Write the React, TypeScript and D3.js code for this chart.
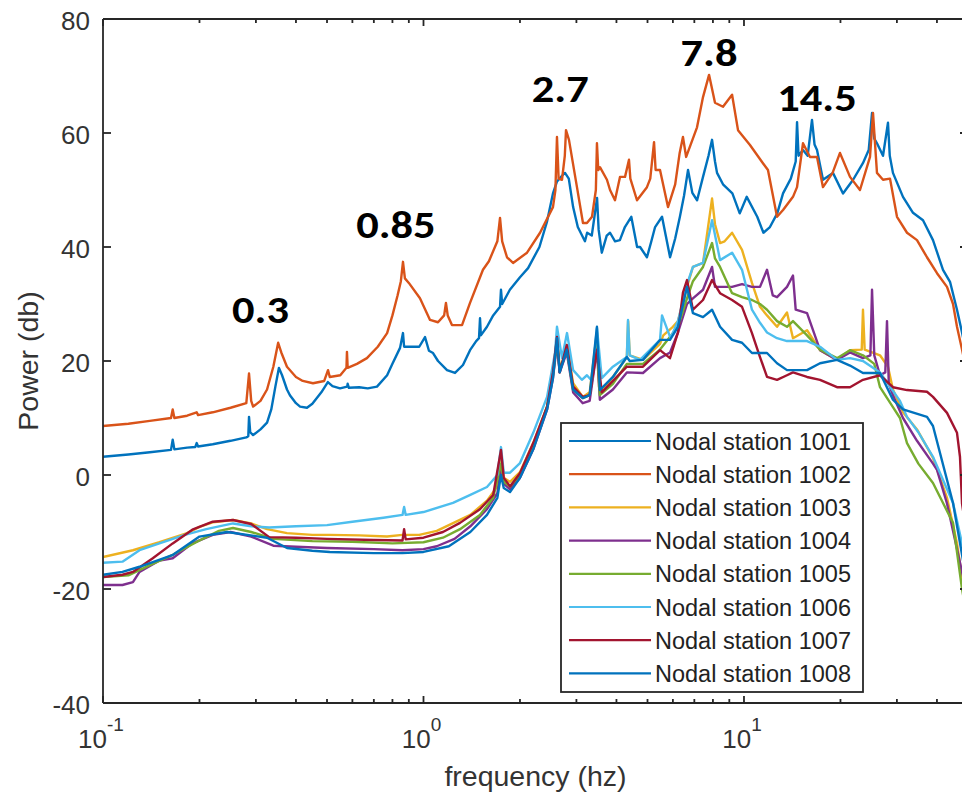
import React from "react";
import * as d3 from "d3";

type Pt = [number, number];

const stationNames = [
  "Nodal station 1001",
  "Nodal station 1002",
  "Nodal station 1003",
  "Nodal station 1004",
  "Nodal station 1005",
  "Nodal station 1006",
  "Nodal station 1007",
  "Nodal station 1008",
];
const stationColors = ["#0072BD", "#D95319", "#EDB120", "#7E2F8E", "#77AC30", "#4DBEEE", "#A2142F", "#0072BD"];

const station1001: Pt[] = [
  [0.1, 3.2], [0.12, 3.6], [0.14, 4.0], [0.163, 4.4], [0.165, 6.2], [0.167, 4.5], [0.183, 4.8], [0.194, 4.9], [0.196, 5.6], [0.198, 5.0],
  [0.22, 5.4], [0.25, 6.0], [0.28, 6.6], [0.284, 6.8], [0.2855, 10.2], [0.288, 7.5], [0.294, 7.0], [0.31, 8.0], [0.325, 9.2], [0.335, 11.5],
  [0.345, 15.5], [0.354, 18.8], [0.362, 17.5], [0.375, 15.0], [0.383, 14.0], [0.4, 12.6], [0.412, 12.0], [0.433, 11.8], [0.45, 12.5], [0.48, 14.5],
  [0.503, 16.3], [0.52, 15.6], [0.549, 15.2], [0.578, 15.5], [0.58, 16.0], [0.585, 15.3], [0.63, 15.4], [0.67, 15.2], [0.716, 15.5], [0.77, 17.5],
  [0.8, 19.5], [0.845, 22.3], [0.863, 24.9], [0.87, 22.5], [0.927, 22.5], [0.97, 22.5], [1.011, 24.2], [1.04, 21.8], [1.071, 21.4], [1.11, 20.0],
  [1.184, 18.4], [1.254, 17.9], [1.328, 19.3], [1.397, 21.9], [1.46, 23.5], [1.49, 24.0], [1.501, 27.5], [1.51, 24.5], [1.578, 26.0], [1.65, 28.0],
  [1.733, 29.5], [1.745, 32.5], [1.76, 30.0], [1.86, 32.5], [2.0, 34.7], [2.12, 36.3], [2.3, 40], [2.43, 44.5], [2.535, 49.4], [2.61, 51.5],
  [2.705, 52.5], [2.764, 53], [2.84, 52.0], [2.93, 47], [3.03, 43.5], [3.19, 41], [3.24, 42.5], [3.35, 42.0], [3.48, 48.6], [3.52, 43.0],
  [3.6, 39.0], [3.73, 42.0], [3.82, 42.5], [3.96, 41.0], [4.1, 41.2], [4.25, 43.5], [4.45, 45.3], [4.64, 40.0], [4.74, 40.0], [4.98, 38.2],
  [5.14, 41.0], [5.28, 43.5], [5.55, 45.3], [5.7, 42], [5.88, 38.2], [6.1, 41.5], [6.31, 45.3], [6.5, 49], [6.69, 53.5], [6.9, 49.5],
  [7.14, 48.2], [7.45, 52.3], [7.75, 56], [7.95, 58.8], [8.12, 55], [8.24, 53], [8.6, 51], [9.2, 49.4], [9.7, 45.9], [10.2, 48.8],
  [11.0, 45.3], [11.5, 42.5], [12.05, 43.5], [12.7, 45.9], [13.24, 49.4], [14.0, 52], [14.5, 55], [14.64, 61.9], [14.8, 56], [15.28, 57],
  [15.8, 56], [16.3, 62.3], [16.6, 58], [16.9, 57], [17.64, 51.8], [18.95, 53], [20.37, 49.4], [21.9, 51.8], [23.5, 54.7], [24.5, 57],
  [25.09, 63.5], [25.5, 59], [26.0, 58.2], [27.15, 56], [28.14, 61.8], [28.5, 56], [29.16, 53], [31.34, 48.8], [33.68, 46], [36.19, 44.7],
  [38.88, 41.2], [41.78, 36], [43.94, 33.9], [46.2, 29], [47.9, 25], [50, 20],
];

const station1002: Pt[] = [
  [0.1, 8.6], [0.12, 9.0], [0.14, 9.5], [0.163, 10.0], [0.165, 11.5], [0.167, 10.0], [0.183, 10.4], [0.196, 11.0], [0.198, 10.5], [0.22, 11.0],
  [0.25, 11.8], [0.28, 12.6], [0.2855, 17.8], [0.29, 13], [0.294, 12.0], [0.31, 13.0], [0.325, 15], [0.34, 19], [0.352, 23.2], [0.36, 21.5],
  [0.375, 19.0], [0.4, 17.2], [0.42, 16.5], [0.452, 16.1], [0.49, 16.5], [0.5036, 18.4], [0.51, 17.2], [0.55, 17.5], [0.575, 18.8], [0.577, 21.6],
  [0.58, 18.8], [0.62, 19.5], [0.666, 20.5], [0.72, 22.5], [0.77, 24.9], [0.8, 28], [0.83, 31.5], [0.85, 34], [0.863, 37.4], [0.875, 34.5],
  [0.9, 33.7], [0.975, 31], [1.048, 27.2], [1.11, 26.8], [1.16, 28], [1.175, 30.2], [1.19, 28], [1.227, 26.3], [1.319, 26.3], [1.397, 30.2],
  [1.533, 36], [1.6, 37.5], [1.7, 41], [1.733, 45.1], [1.76, 41], [1.822, 38.2], [1.903, 37.2], [2.104, 39], [2.31, 42.5], [2.535, 47],
  [2.58, 50], [2.609, 59.3], [2.64, 52], [2.705, 51.8], [2.76, 56], [2.784, 60.5], [2.844, 58.8], [3.012, 50.5], [3.145, 44.2], [3.236, 44.2],
  [3.356, 45.3], [3.45, 50], [3.477, 58.2], [3.51, 53.5], [3.553, 54], [3.736, 51.8], [3.82, 50], [3.958, 48.2], [4.103, 52.3], [4.254, 52.3],
  [4.377, 55.3], [4.42, 52], [4.636, 48.2], [4.98, 50.5], [5.1, 52], [5.24, 58.4], [5.3, 53.5], [5.47, 53.5], [5.793, 47], [6.1, 51],
  [6.3, 56.5], [6.45, 59.3], [6.6, 55.8], [7.136, 61], [7.45, 66.3], [7.78, 70.2], [8.12, 65.3], [8.6, 64.6], [9.18, 66.7], [9.58, 60.5],
  [10.44, 57.9], [11.46, 54.7], [11.88, 53.5], [12.68, 45.3], [13.24, 46.5], [14.22, 48.8], [14.64, 50.5], [15.28, 58.2], [16.07, 55.8], [16.9, 55.8],
  [17.64, 50.5], [18.9, 53], [19.93, 56.5], [21.42, 52.3], [23.01, 50], [24.73, 55.8], [25.27, 63.5], [26.0, 53], [27.15, 51.8], [28.55, 52],
  [30.02, 45.3], [32.26, 42.5], [34.66, 41.2], [37.24, 38.2], [40.02, 35.4], [43.0, 33], [44.9, 30], [46.2, 26], [47.9, 22], [50, 17],
];

const station1003: Pt[] = [
  [0.1, -14.4], [0.124, -13.2], [0.15, -11.8], [0.183, -10.2], [0.2, -9.1], [0.22, -8.3], [0.2545, -7.9], [0.29, -8.5], [0.325, -9.5], [0.375, -10.2],
  [0.45, -10.5], [0.51, -10.5], [0.63, -10.6], [0.77, -10.8], [0.86, -10.5], [0.97, -10.5], [1.1, -9.8], [1.2, -8.8], [1.4, -7], [1.578, -4.5],
  [1.7, -2.0], [1.745, 3.5], [1.78, -0.5], [1.862, -1.2], [2.0, 0.5], [2.2, 5.6], [2.43, 12], [2.535, 18], [2.609, 24.2], [2.66, 19],
  [2.73, 20], [2.8, 22.8], [2.93, 16.1], [3.14, 13.7], [3.3, 14.5], [3.477, 25], [3.53, 15.5], [3.63, 14.9], [3.9, 17.2], [4.31, 20.7],
  [4.35, 27], [4.4, 21], [4.84, 20.2], [5.47, 23], [5.6, 24.5], [6.0, 26], [6.224, 27], [6.64, 33], [6.93, 36.5], [7.45, 37.2],
  [7.95, 48.5], [8.12, 44], [8.42, 40.7], [8.7, 41], [9.18, 42.5], [9.86, 39.5], [10.59, 33.7], [11.22, 29.5], [11.8, 28], [12.68, 26],
  [13.62, 28.5], [14.22, 24], [15.73, 25.4], [17.27, 21.9], [19.51, 20.2], [21.42, 21.9], [23.3, 22], [23.51, 29], [23.8, 22], [26.57, 21],
  [28.14, 19], [29.16, 15], [31.34, 11], [34.66, 8], [38.88, 3], [43.0, -4], [46.2, -12], [47.9, -18], [50, -24],
];

const station1004: Pt[] = [
  [0.1, -19.3], [0.115, -19.3], [0.124, -18.8], [0.13, -17.0], [0.15, -15], [0.165, -14.6], [0.19, -12], [0.22, -10.5], [0.25, -10], [0.29, -10.8],
  [0.34, -12.4], [0.4, -12.6], [0.5, -12.8], [0.7, -13], [0.86, -13.2], [1.0, -13], [1.1, -12.5], [1.25, -11.2], [1.4, -9], [1.578, -6],
  [1.7, -3.2], [1.745, 1], [1.78, -1.5], [1.862, -2.5], [2.0, -0.5], [2.2, 4.5], [2.43, 11.5], [2.535, 17], [2.609, 23], [2.66, 18],
  [2.8, 21.5], [2.93, 14.5], [3.14, 12.6], [3.3, 13], [3.477, 22], [3.55, 13.2], [3.9, 15], [4.31, 18], [4.84, 17.9], [5.47, 20.5],
  [5.88, 21.5], [6.224, 25], [6.64, 30], [6.93, 31], [7.45, 32.5], [7.95, 36.5], [8.12, 33], [8.42, 33], [9.18, 33], [9.86, 33.5],
  [10.59, 33], [11.22, 33], [11.8, 36], [12.3, 31.5], [12.68, 31.2], [13.62, 33], [14.22, 35], [14.5, 29], [15.73, 28.4], [17.27, 21.9],
  [19.51, 20.2], [21.42, 21.5], [23.51, 20.5], [24.8, 21], [25.09, 32.5], [25.5, 21], [26.57, 17.5], [27.6, 18], [27.94, 27], [28.3, 16],
  [29.16, 14], [31.34, 10], [34.66, 6], [38.88, 2], [40.02, 0.9], [43.0, -5], [46.2, -13], [47.9, -17], [50, -22],
];

const station1005: Pt[] = [
  [0.1, -17.9], [0.12, -17.6], [0.14, -15.8], [0.165, -14], [0.2, -11.5], [0.23, -9.8], [0.2545, -9.3], [0.29, -10], [0.34, -11.2], [0.45, -11.6],
  [0.6, -11.7], [0.8, -12], [1.0, -11.8], [1.15, -11], [1.3, -9.5], [1.5, -7], [1.65, -4], [1.745, 2], [1.78, -1.2], [1.862, -2],
  [2.0, 0], [2.2, 5], [2.43, 12], [2.535, 17.5], [2.609, 23.5], [2.66, 18.5], [2.8, 22], [2.93, 15], [3.14, 13.5], [3.3, 14],
  [3.477, 23], [3.55, 14], [3.9, 16], [4.31, 19.5], [4.84, 19.5], [5.47, 22], [6.224, 26], [6.64, 31], [6.93, 34], [7.45, 36.5],
  [7.95, 40.7], [8.12, 38], [8.42, 36.5], [9.18, 31.9], [9.86, 31.2], [10.59, 30.7], [11.22, 30], [11.8, 29], [12.68, 27], [13.62, 26],
  [14.22, 27], [15.73, 24.5], [17.27, 22], [19.51, 20.5], [21.42, 21.9], [23.51, 21], [25.5, 19.5], [26.57, 15.4], [29.16, 11.9], [30.67, 10],
  [32.26, 5.6], [35, 2], [38.88, -1.4], [44.9, -8.4], [47.9, -20], [50, -26],
];

const station1006: Pt[] = [
  [0.1, -15.4], [0.115, -15.2], [0.13, -13.2], [0.15, -12], [0.18, -10.5], [0.21, -9.5], [0.2545, -8.5], [0.29, -9.0], [0.33, -9.2], [0.4, -9.0],
  [0.5, -8.8], [0.6, -8.2], [0.75, -7.5], [0.86, -7.0], [0.87, -5.6], [0.88, -7], [1.0, -6.5], [1.236, -4.9], [1.4, -3.5], [1.578, -2.1],
  [1.7, 0], [1.745, 4.9], [1.78, 0.4], [1.862, 0.4], [2.0, 2.1], [2.2, 7.4], [2.43, 13.7], [2.572, 21.4], [2.609, 26], [2.705, 20.5],
  [2.804, 24.9], [2.93, 18.4], [3.12, 16.7], [3.236, 17.5], [3.356, 16.5], [3.477, 25.8], [3.6, 17], [3.9, 19], [4.31, 20.7], [4.346, 27.2],
  [4.4, 21], [4.74, 20.2], [5.47, 23.7], [5.55, 28], [5.9, 24], [6.224, 27], [6.64, 33.5], [6.93, 36.5], [7.45, 37.2], [7.95, 44.7],
  [8.42, 37.7], [9.18, 39], [9.86, 36], [10.59, 29], [11.22, 26.7], [11.8, 25], [12.68, 24], [13.62, 23.5], [15.73, 23.5], [17.27, 22.5],
  [19.51, 20.2], [21.42, 20.5], [23.51, 20], [26.57, 18], [28.14, 16], [30.67, 13], [32.26, 10.2], [35, 7.5], [38.88, 3.2], [44.9, -4.9],
  [47.9, -12], [50, -18],
];

const station1007: Pt[] = [
  [0.1, -17.9], [0.115, -17.5], [0.124, -17], [0.143, -14.6], [0.165, -12], [0.19, -9.6], [0.22, -8.2], [0.2545, -7.9], [0.29, -8.6], [0.33, -10.9],
  [0.4, -11.0], [0.5, -11.2], [0.7, -11.4], [0.86, -11.5], [0.87, -9.5], [0.88, -11.3], [1.0, -11], [1.15, -10], [1.3, -8.4], [1.5, -6],
  [1.65, -3.5], [1.745, 4.4], [1.78, -0.5], [1.862, -2], [2.0, 0.3], [2.2, 5.6], [2.43, 12], [2.535, 18], [2.609, 24.2], [2.66, 18],
  [2.8, 22.8], [2.93, 15.5], [3.14, 13.7], [3.3, 14], [3.477, 22], [3.6, 14.5], [3.9, 16.5], [4.31, 19], [4.84, 19], [5.47, 21.9],
  [5.876, 20.5], [6.224, 25], [6.45, 32], [6.64, 34.2], [6.93, 29], [7.45, 30.7], [7.95, 34.2], [8.42, 31.9], [9.18, 30.7], [9.86, 29.5],
  [10.59, 24.9], [11.22, 20.7], [11.8, 17.2], [12.68, 16.7], [13.62, 17.5], [14.22, 18], [15.73, 17.2], [17.27, 16.7], [19.51, 15.4], [21.42, 15.4],
  [23.51, 16.7], [26.57, 17.5], [29.16, 15.4], [32.26, 14.9], [37.24, 14.6], [38.88, 13.7], [43.0, 10.9], [46.2, 7.4], [47.2, 3.2], [47.9, -5],
  [50, -12],
];

const station1008: Pt[] = [
  [0.1, -17.5], [0.115, -17.0], [0.13, -16.1], [0.1654, -14], [0.2, -10.8], [0.2437, -10], [0.3249, -11], [0.3751, -12.8], [0.45, -13.3], [0.51, -13.5],
  [0.7, -13.7], [0.86, -13.7], [1.0, -13.5], [1.2, -12.5], [1.4, -10], [1.578, -7], [1.7, -4], [1.745, 0], [1.78, -2.3], [1.862, -3],
  [2.0, -0.5], [2.2, 4.5], [2.43, 11.5], [2.535, 17], [2.609, 24], [2.66, 18], [2.8, 22], [2.93, 15], [3.14, 13.5], [3.3, 14],
  [3.477, 26], [3.55, 14.9], [3.9, 17.2], [4.31, 20.7], [4.4, 20], [4.84, 20.2], [5.47, 23.7], [5.876, 23.7], [6.224, 26], [6.64, 33],
  [6.93, 28.4], [7.45, 27.7], [7.95, 29], [8.42, 26], [9.18, 23.7], [9.86, 23.2], [10.59, 21.4], [11.22, 21.4], [11.8, 21.4], [12.68, 19.6],
  [13.62, 18.4], [15.73, 18.4], [17.27, 19.6], [19.51, 20.2], [21.42, 19.2], [23.51, 17.9], [26.57, 17.9], [29.16, 13.2], [31.34, 11.5], [37.24, 10.2],
  [38.88, 8.6], [44.9, -4.9], [47.9, -14], [50, -20],
];

const allStations = [station1001, station1002, station1003, station1004, station1005, station1006, station1007, station1008];

const yTicks = [-40, -20, 0, 20, 40, 60, 80];
const xMajorTicks = [0.1, 1, 10];
const xMajorExponents = ["-1", "0", "1"];
const xMinorTicks = [0.2, 0.3, 0.4, 0.5, 0.6, 0.7, 0.8, 0.9, 2, 3, 4, 5, 6, 7, 8, 9, 20, 30, 40];

const peakLabels = ["0.3", "0.85", "2.7", "7.8", "14.5"];
const peakLabelPos: Pt[] = [[0.31, 26.7], [0.82, 41.6], [2.67, 65.4], [7.78, 71.8], [16.9, 63.9]];

const W = 962;
const H = 799;
const L = 103;
const R = 968;
const T = 19;
const B = 703;
const AX = "#262626";
const FONT = "'Liberation Sans', Arial, Helvetica, sans-serif";

export default function App() {
  const x = d3.scaleLog().domain([0.1, 50]).range([L, R]);
  const y = d3.scaleLinear().domain([-40, 80]).range([B, T]);
  const line = d3
    .line<Pt>()
    .x((d) => x(d[0]))
    .y((d) => y(d[1]));

  const legX = 561;
  const legY = 423;
  const legW = 302;
  const legH = 269;
  const rowH = 33.2;

  return (
    <svg
      width={W}
      height={H}
      viewBox={`0 0 ${W} ${H}`}
      style={{ position: "absolute", left: 0, top: 0, display: "block", background: "#fff" }}
    >
      <defs>
        <clipPath id="plotclip">
          <rect x={L} y={T} width={R - L} height={B - T} />
        </clipPath>
      </defs>
      <rect x={0} y={0} width={W} height={H} fill="#fff" />

      <g clipPath="url(#plotclip)">
        {allStations.map((s, i) => (
          <path key={i} d={line(s) || ""} fill="none" stroke={stationColors[i]} strokeWidth={2.4} strokeLinejoin="round" />
        ))}
      </g>

      {/* axes box */}
      <g stroke={AX} strokeWidth={1.8} fill="none">
        <line x1={L} y1={T} x2={L} y2={B} />
        <line x1={L} y1={B} x2={R} y2={B} />
        <line x1={L} y1={T} x2={R} y2={T} />
        <line x1={R} y1={T} x2={R} y2={B} />
        {yTicks.map((t) => (
          <g key={"yt" + t}>
            <line x1={L} y1={y(t)} x2={L + 8} y2={y(t)} />
            <line x1={R} y1={y(t)} x2={R - 8} y2={y(t)} />
          </g>
        ))}
        {xMajorTicks.map((t) => (
          <g key={"xt" + t}>
            <line x1={x(t)} y1={B} x2={x(t)} y2={B - 7} />
            <line x1={x(t)} y1={T} x2={x(t)} y2={T + 7} />
          </g>
        ))}
        {xMinorTicks.map((t) => (
          <g key={"xm" + t}>
            <line x1={x(t)} y1={B} x2={x(t)} y2={B - 4} />
            <line x1={x(t)} y1={T} x2={x(t)} y2={T + 4} />
          </g>
        ))}
      </g>

      {/* y tick labels */}
      <g fontFamily={FONT} fontSize={26} fill="#333" textAnchor="end">
        {yTicks.map((t) => (
          <text key={"yl" + t} x={L - 13} y={y(t) + 11}>
            {t}
          </text>
        ))}
      </g>

      {/* x tick labels */}
      <g fontFamily={FONT} fontSize={26} fill="#333" textAnchor="middle">
        {xMajorTicks.map((t, i) => (
          <text key={"xl" + t} x={x(t) - 2} y={748}>
            10
            <tspan fontSize={19} dy={-17}>
              {xMajorExponents[i]}
            </tspan>
          </text>
        ))}
      </g>

      {/* axis labels */}
      <text x={(L + R) / 2} y={786} fontFamily={FONT} fontSize={28.5} fill="#333" textAnchor="middle">
        frequency (hz)
      </text>
      <text
        transform={`translate(38, ${(T + B) / 2}) rotate(-90)`}
        fontFamily={FONT}
        fontSize={28.5}
        fill="#333"
        textAnchor="middle"
      >
        Power (db)
      </text>

      {/* peak annotations */}
      <g fontFamily="Carlito, Calibri, Lato, 'Open Sans', sans-serif" fontWeight="bold" fontSize={38} fill="#000" textAnchor="middle">
        {peakLabels.map((lab, i) => {
          const px = x(peakLabelPos[i][0]);
          const py = y(peakLabelPos[i][1]);
          return (
            <text key={lab} transform={`translate(${px}, ${py}) scale(1.17, 1)`} x={0} y={0}>
              {lab}
            </text>
          );
        })}
      </g>

      {/* legend */}
      <g>
        <rect x={legX} y={legY} width={legW} height={legH} fill="#fff" stroke={AX} strokeWidth={1.8} />
        {stationNames.map((name, i) => {
          const cy = legY + 18 + i * rowH;
          return (
            <g key={name}>
              <line x1={legX + 8} x2={legX + 90} y1={cy} y2={cy} stroke={stationColors[i]} strokeWidth={2.2} />
              <text x={legX + 94} y={cy + 8.5} fontFamily={FONT} fontSize={23.5} fill="#222">
                {name}
              </text>
            </g>
          );
        })}
      </g>
    </svg>
  );
}
